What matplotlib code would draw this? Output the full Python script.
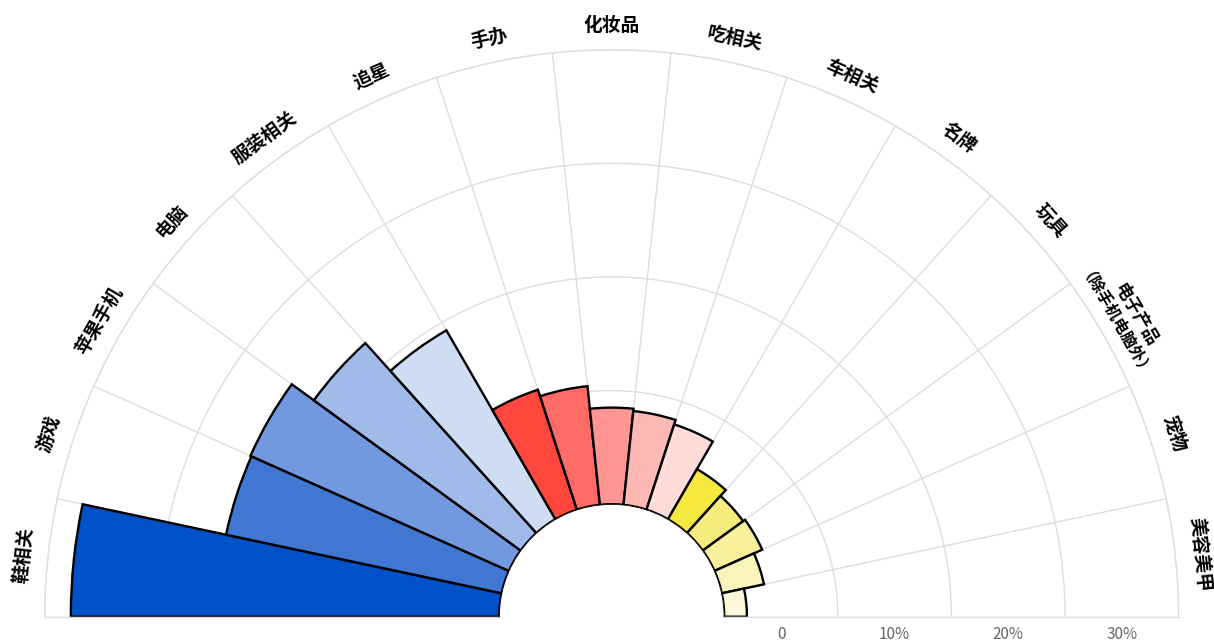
import numpy as np
import matplotlib
matplotlib.use("Agg")
import matplotlib.pyplot as plt

plt.rcParams['font.family'] = ['Noto Sans CJK SC', 'DejaVu Sans']

# ---- data ----
categories = ["鞋相关", "游戏", "苹果手机", "电脑", "服装相关", "追星", "手办", "化妆品",
              "吃相关", "车相关", "名牌", "玩具", "电子产品", "宠物", "美容美甲"]
sub_labels = {"电子产品": "（除手机电脑外）"}
values = [37.7, 24.8, 24.9, 22.5, 19.2, 11.1, 10.5, 8.5, 8.3, 7.9, 5.1, 4.4, 4.6, 3.8, 2.0]
colors = ["#0050C8", "#3F77D3", "#7298E0", "#A0BAEA", "#CEDCF4",
          "#FF473D", "#FF6B66", "#FF9693", "#FFB9B5", "#FFDCD9",
          "#F5E93F", "#F5EC7D", "#F7F19C", "#F8F4BA", "#FBF9DA"]
radial_ticks = [0, 10, 20, 30]
radial_max = 40

# ---- figure ----
W, H = 1214, 641
fig = plt.figure(figsize=(W / 100, H / 100), dpi=100)
# half disc: centre (611.7, 616.7 from top), outer radius 567 px
side = 2 * 567
cx, cy = 611.7, H - 616.7
ax = fig.add_axes([(cx - side / 2) / W, (cy - side / 4) / H, side / W, side / H],
                  projection='polar')
ax.set_theta_zero_location('W')
ax.set_theta_direction(-1)
ax.set_thetamin(0)
ax.set_thetamax(180)
ax.set_ylim(0, radial_max)
ax.set_rorigin(-9.9)

n = len(categories)
step = np.pi / n
centers = step / 2 + step * np.arange(n)

ax.bar(centers, values, width=step, bottom=0, color=colors,
       edgecolor='black', linewidth=1.7, zorder=3)

# grid
ax.set_xticks(step * np.arange(n + 1))
ax.set_xticklabels([])
ax.set_yticks([10, 20, 30, 40])
ax.set_yticklabels([])
ax.grid(True, color='#DDDDDD', linewidth=1.0)
ax.tick_params(length=0)
for name in ['polar', 'start', 'end']:
    ax.spines[name].set_color('#DDDDDD')
    ax.spines[name].set_linewidth(1.0)
ax.spines['inner'].set_visible(False)

# category labels
for th, lab in zip(centers, categories):
    rot = 90 - np.degrees(th)
    if lab in sub_labels:
        ax.text(th, 43.3, lab, rotation=rot, rotation_mode='anchor',
                ha='center', va='center', fontsize=12.5, fontweight='bold')
        ax.text(th, 40.9, sub_labels[lab], rotation=rot, rotation_mode='anchor',
                ha='center', va='center', fontsize=11.5, fontweight='bold')
    else:
        ax.text(th, 42.15, lab, rotation=rot, rotation_mode='anchor',
                ha='center', va='center', fontsize=13.5, fontweight='bold')

# radial axis labels
for v in radial_ticks:
    txt = "0" if v == 0 else f"{v}%"
    ax.annotate(txt, xy=(np.pi, v + 5), xytext=(0, -12.5), textcoords='offset points',
                ha='center', va='center', fontsize=11, color='#666666',
                annotation_clip=False)

fig.savefig("out.png", dpi=100)
